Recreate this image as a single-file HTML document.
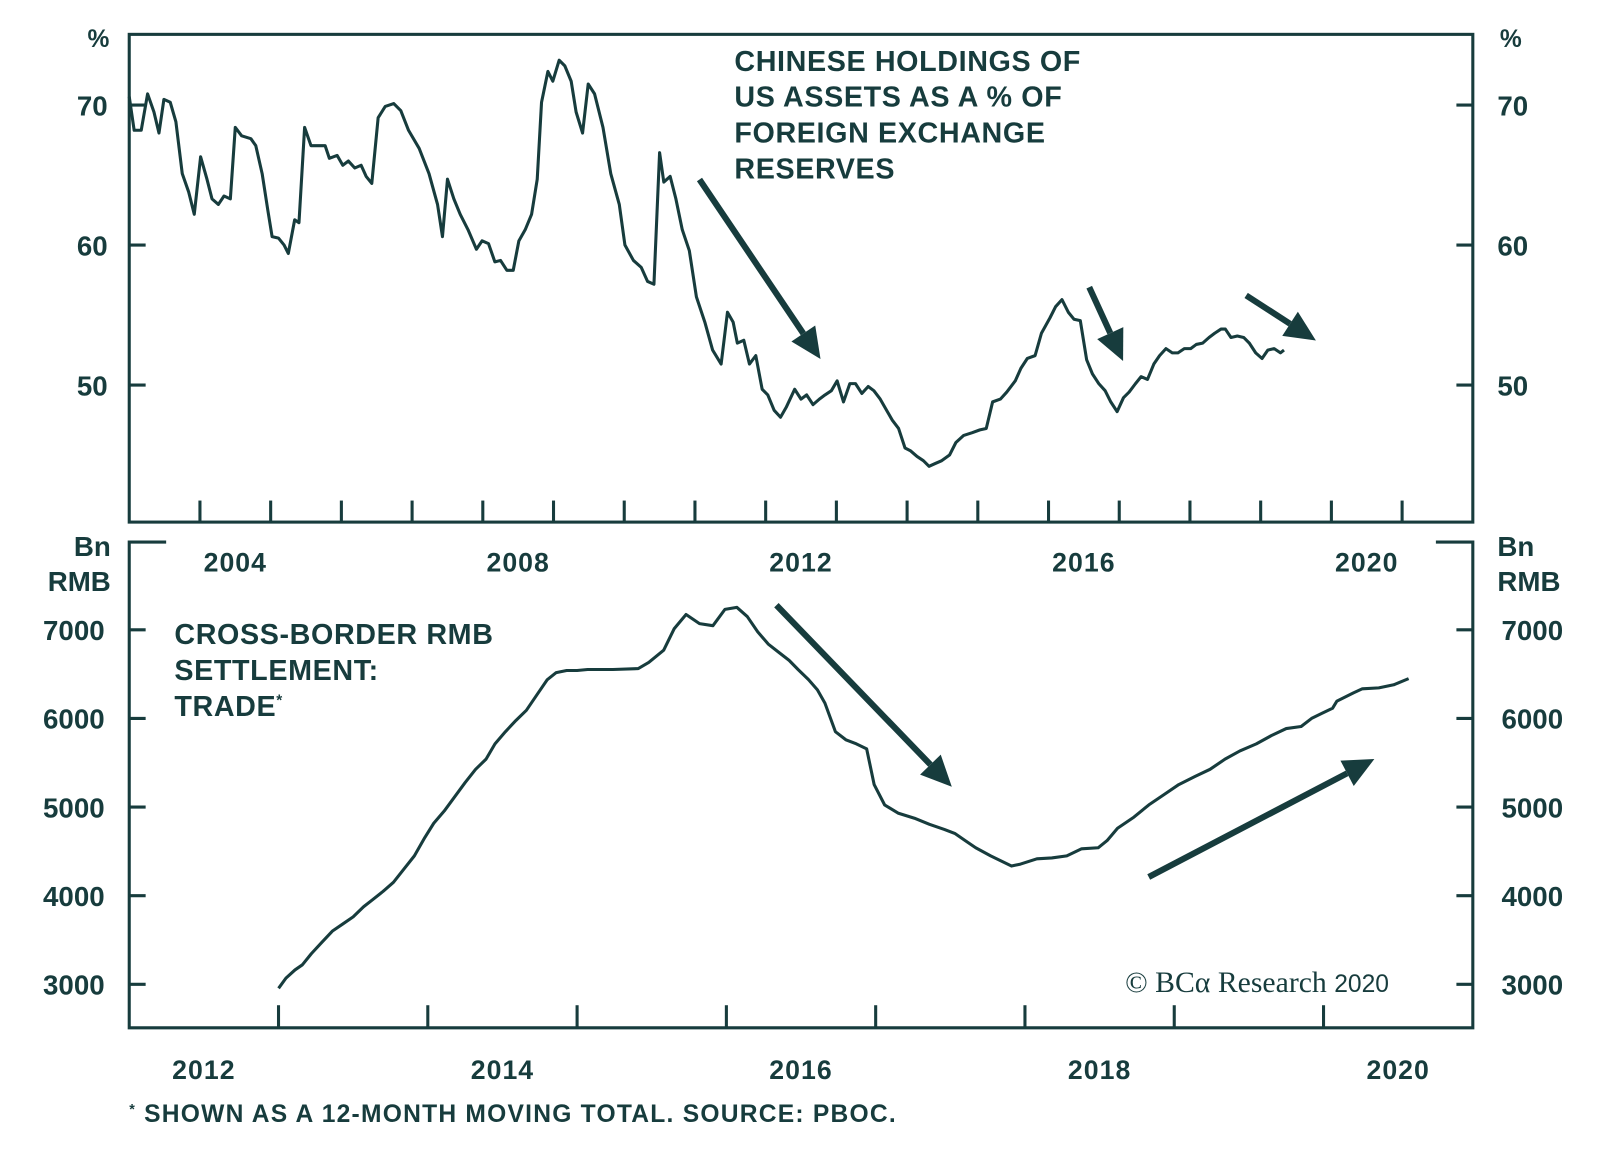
<!DOCTYPE html>
<html><head><meta charset="utf-8"><style>
html,body{margin:0;padding:0;background:#fff;}
svg{display:block;}
text{font-family:"Liberation Sans",sans-serif;font-weight:bold;fill:#173c3d;}
.ann{letter-spacing:0.6px;}
</style></head><body>
<svg id="chart" width="1600" height="1156" viewBox="0 0 1560 1127" preserveAspectRatio="none" xmlns="http://www.w3.org/2000/svg">
<g id="topPanel"></g>
<g id="botPanel"></g>
<g class="ann">
<text x="716" y="69" font-size="28">CHINESE HOLDINGS OF</text>
<text x="716" y="104" font-size="28">US ASSETS AS A % OF</text>
<text x="716" y="139" font-size="28">FOREIGN EXCHANGE</text>
<text x="716" y="174" font-size="28">RESERVES</text>
</g>
<g class="ann">
<text x="170" y="628" font-size="28">CROSS-BORDER RMB</text>
<text x="170" y="663" font-size="28">SETTLEMENT:</text>
<text x="170" y="698" font-size="28">TRADE<tspan font-size="15" dy="-10">*</tspan></text>
</g>
<text x="96" y="46" font-size="24" text-anchor="middle">%</text>
<text x="1473" y="46" font-size="24" text-anchor="middle">%</text>
<text x="108" y="542" font-size="27" text-anchor="end">Bn</text>
<text x="108" y="576" font-size="27" text-anchor="end">RMB</text>
<text x="1460" y="542" font-size="27">Bn</text>
<text x="1460" y="576" font-size="27">RMB</text>
<text x="1097" y="967" font-size="29" style="font-family:'Liberation Serif',serif;font-weight:normal">© BCα Research <tspan style="font-family:'Liberation Sans',sans-serif" font-size="24">2020</tspan></text>
<text x="126" y="1094" font-size="24" letter-spacing="1.2"><tspan font-size="14" dy="-8">*</tspan><tspan dy="8"> SHOWN AS A 12-MONTH MOVING TOTAL. SOURCE: PBOC.</tspan></text>
</svg>
<script>
const topDates=[2003.00,2003.07,2003.17,2003.26,2003.35,2003.42,2003.49,2003.58,2003.66,2003.75,2003.84,2003.92,2004.01,2004.10,2004.17,2004.26,2004.34,2004.43,2004.50,2004.59,2004.72,2004.79,2004.88,2004.96,2005.02,2005.11,2005.19,2005.25,2005.34,2005.40,2005.48,2005.57,2005.68,2005.77,2005.83,2005.94,2006.02,2006.10,2006.19,2006.28,2006.35,2006.43,2006.52,2006.62,2006.74,2006.84,2006.95,2007.10,2007.24,2007.36,2007.43,2007.50,2007.59,2007.68,2007.79,2007.91,2007.99,2008.08,2008.17,2008.25,2008.34,2008.43,2008.51,2008.60,2008.69,2008.77,2008.83,2008.92,2008.99,2009.08,2009.16,2009.25,2009.32,2009.41,2009.49,2009.58,2009.70,2009.81,2009.93,2010.01,2010.13,2010.24,2010.33,2010.42,2010.50,2010.56,2010.65,2010.73,2010.82,2010.92,2011.02,2011.14,2011.25,2011.37,2011.46,2011.54,2011.60,2011.69,2011.77,2011.86,2011.95,2012.03,2012.12,2012.21,2012.29,2012.41,2012.50,2012.58,2012.67,2012.76,2012.84,2012.93,2013.01,2013.10,2013.19,2013.27,2013.36,2013.45,2013.53,2013.62,2013.71,2013.79,2013.88,2013.97,2014.05,2014.14,2014.23,2014.31,2014.40,2014.49,2014.60,2014.69,2014.80,2014.92,2015.03,2015.12,2015.21,2015.32,2015.41,2015.53,2015.61,2015.70,2015.81,2015.90,2016.02,2016.10,2016.19,2016.28,2016.36,2016.45,2016.54,2016.62,2016.71,2016.80,2016.88,2016.97,2017.06,2017.14,2017.23,2017.31,2017.40,2017.49,2017.57,2017.66,2017.75,2017.83,2017.92,2018.01,2018.09,2018.18,2018.27,2018.35,2018.44,2018.50,2018.58,2018.67,2018.76,2018.84,2018.93,2019.02,2019.10,2019.19,2019.28,2019.33];
const topValues=[70.6,68.2,68.2,70.8,69.5,68.0,70.4,70.2,68.8,65.1,63.8,62.2,66.3,64.7,63.3,62.9,63.5,63.3,68.4,67.8,67.6,67.1,65.1,62.5,60.6,60.5,60.0,59.4,61.8,61.6,68.4,67.1,67.1,67.1,66.2,66.4,65.7,66.0,65.5,65.7,64.9,64.4,69.1,69.9,70.1,69.6,68.2,66.9,65.1,62.9,60.6,64.7,63.3,62.2,61.1,59.7,60.3,60.1,58.8,58.9,58.2,58.2,60.3,61.1,62.2,64.7,70.2,72.4,71.7,73.2,72.8,71.7,69.5,68.0,71.5,70.8,68.4,65.1,62.9,60.0,58.9,58.4,57.4,57.2,66.6,64.5,64.9,63.3,61.1,59.6,56.3,54.5,52.5,51.5,55.2,54.5,53.0,53.2,51.5,52.1,49.7,49.3,48.2,47.7,48.4,49.7,49.0,49.3,48.6,49.0,49.3,49.6,50.3,48.8,50.1,50.1,49.4,49.9,49.6,49.0,48.2,47.5,46.9,45.5,45.3,44.9,44.6,44.2,44.4,44.6,45.0,45.9,46.4,46.6,46.8,46.9,48.8,49.0,49.5,50.3,51.2,51.9,52.1,53.7,54.8,55.6,56.1,55.2,54.7,54.6,51.8,50.8,50.1,49.6,48.8,48.1,49.1,49.5,50.1,50.6,50.4,51.5,52.1,52.6,52.3,52.3,52.6,52.6,52.9,53.0,53.4,53.7,54.0,54.0,53.4,53.5,53.4,53.0,52.3,51.9,52.5,52.6,52.3,52.5];
const topYTicks=[50,60,70];
const topXLabels=[2004,2008,2012,2016,2020];
const botDates=[2013.00,2013.05,2013.11,2013.16,2013.22,2013.29,2013.36,2013.43,2013.50,2013.57,2013.63,2013.70,2013.77,2013.84,2013.91,2013.98,2014.04,2014.11,2014.18,2014.25,2014.32,2014.39,2014.45,2014.52,2014.59,2014.66,2014.73,2014.80,2014.86,2014.93,2015.00,2015.07,2015.14,2015.24,2015.41,2015.48,2015.58,2015.65,2015.73,2015.82,2015.91,2015.99,2016.07,2016.14,2016.21,2016.28,2016.35,2016.42,2016.48,2016.55,2016.61,2016.66,2016.73,2016.80,2016.87,2016.94,2016.99,2017.06,2017.15,2017.26,2017.36,2017.46,2017.53,2017.60,2017.67,2017.77,2017.91,2017.97,2018.08,2018.18,2018.28,2018.38,2018.49,2018.55,2018.62,2018.73,2018.83,2018.93,2019.03,2019.14,2019.24,2019.34,2019.44,2019.55,2019.65,2019.75,2019.85,2019.92,2019.99,2020.06,2020.09,2020.20,2020.26,2020.37,2020.47,2020.57];
const botValues=[2955,3070,3162,3220,3346,3473,3599,3679,3760,3875,3955,4047,4150,4300,4449,4656,4817,4955,5116,5277,5426,5541,5713,5851,5977,6092,6265,6437,6517,6540,6540,6552,6552,6552,6563,6632,6770,7011,7172,7069,7046,7230,7253,7149,6977,6839,6747,6655,6552,6437,6322,6173,5851,5759,5713,5656,5254,5024,4932,4874,4805,4748,4702,4622,4541,4449,4334,4357,4415,4426,4449,4529,4541,4622,4760,4886,5024,5139,5254,5346,5426,5541,5633,5713,5805,5885,5908,6000,6058,6115,6196,6288,6334,6345,6380,6449];
const botYTicks=[3000,4000,5000,6000,7000];
const botXLabels=[2012,2014,2016,2018,2020];

const NS='http://www.w3.org/2000/svg';
const C='#173c3d';
function mk(tag,attrs,parent){const e=document.createElementNS(NS,tag);for(const k in attrs)e.setAttribute(k,attrs[k]);parent.appendChild(e);return e;}
const L=126,R=1436;
const tx=y=>L+(y-2003)*(R-L)/19;
const ty=v=>102.4+(70-v)*13.65;
const bx=y=>L+(y-2012)*(R-L)/9;
const by=v=>614+(7000-v)*0.0864;

const topG=document.getElementById('topPanel');
const botG=document.getElementById('botPanel');
let f=mk('rect',{x:L,y:33.5,width:R-L,height:509-33.5,fill:'none',stroke:C,'stroke-width':3},topG);


for(let yr=2004;yr<=2021;yr++){
  const t=mk('line',{x1:tx(yr),x2:tx(yr),y1:509,y2:488,stroke:C,'stroke-width':3},topG);
  
  
}
topXLabels.forEach(yr=>{
  const t=mk('text',{x:tx(yr+0.5),y:557,'font-size':26,'text-anchor':'middle','letter-spacing':1},topG);
  t.textContent=yr;
  
  
});
topYTicks.forEach(v=>{
  const a=mk('line',{x1:L,x2:L+16,y1:ty(v),y2:ty(v),stroke:C,'stroke-width':3},topG);
  
  
  const b=mk('line',{x1:R-16,x2:R,y1:ty(v),y2:ty(v),stroke:C,'stroke-width':3},topG);
  
  
  const t1=mk('text',{x:90,y:ty(v)+10,'font-size':27,'text-anchor':'middle'},topG);
  t1.textContent=v;
  
  
  const t2=mk('text',{x:1475,y:ty(v)+10,'font-size':27,'text-anchor':'middle'},topG);
  t2.textContent=v;
  
  
});
let p=mk('polyline',{points:topDates.map((d,i)=>tx(d).toFixed(1)+','+ty(topValues[i]).toFixed(1)).join(' '),fill:'none',stroke:C,'stroke-width':3,'stroke-linejoin':'round'},topG);



f=mk('path',{d:`M${L+36},528.5 H${L} V1002 H${R} V528.5 H${R-36}`,fill:'none',stroke:C,'stroke-width':3},botG);


for(let yr=2013;yr<=2020;yr++){
  const t=mk('line',{x1:bx(yr),x2:bx(yr),y1:1002,y2:980,stroke:C,'stroke-width':3},botG);
  
  
}
botXLabels.forEach(yr=>{
  const t=mk('text',{x:bx(yr+0.5),y:1052,'font-size':26,'text-anchor':'middle','letter-spacing':1},botG);
  t.textContent=yr;
  
  
});
botYTicks.forEach(v=>{
  const a=mk('line',{x1:L,x2:L+16,y1:by(v),y2:by(v),stroke:C,'stroke-width':3},botG);
  
  
  const b=mk('line',{x1:R-16,x2:R,y1:by(v),y2:by(v),stroke:C,'stroke-width':3},botG);
  
  
  const t1=mk('text',{x:72,y:by(v)+10,'font-size':27,'text-anchor':'middle'},botG);
  t1.textContent=v;
  
  
  const t2=mk('text',{x:1494,y:by(v)+10,'font-size':27,'text-anchor':'middle'},botG);
  t2.textContent=v;
  
  
});
p=mk('polyline',{points:botDates.map((d,i)=>bx(d).toFixed(1)+','+by(botValues[i]).toFixed(1)).join(' '),fill:'none',stroke:C,'stroke-width':3,'stroke-linejoin':'round'},botG);



const svgEl=document.getElementById('chart');
function arrow(x1,y1,x2,y2,name){
  const g=mk('g',{},svgEl);
  
  
  const dx=x2-x1,dy=y2-y1,len=Math.hypot(dx,dy),ux=dx/len,uy=dy/len,hl=30,hw=14;
  const bxp=x2-ux*hl,byp=y2-uy*hl;
  mk('line',{x1:x1,y1:y1,x2:bxp,y2:byp,stroke:C,'stroke-width':6},g);
  mk('polygon',{points:`${x2},${y2} ${bxp-uy*hw},${byp+ux*hw} ${bxp+uy*hw},${byp-ux*hw}`,fill:C},g);
}
arrow(682,175,800,350,'top-arrow-1');
arrow(1062,280,1095,352,'top-arrow-2');
arrow(1215,288,1283,332,'top-arrow-3');
arrow(757,590,928,767,'bottom-arrow-down');
arrow(1120,855,1340,740,'bottom-arrow-up');
</script>
</body></html>
